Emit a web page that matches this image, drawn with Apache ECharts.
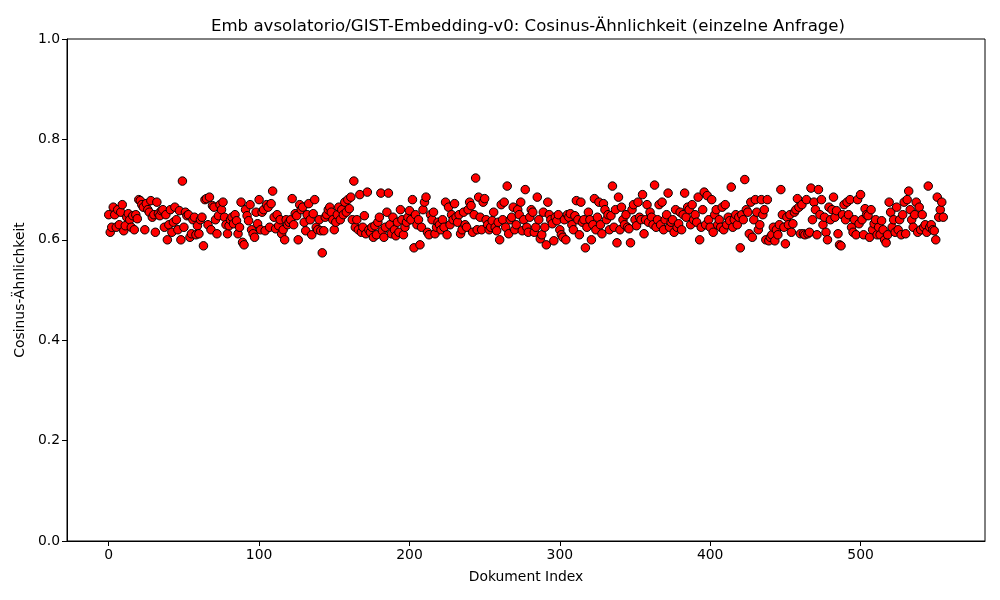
<!DOCTYPE html>
<html><head><meta charset="utf-8">
<script src="https://cdn.jsdelivr.net/npm/echarts@6/dist/echarts.min.js"></script>
<style>html,body{margin:0;padding:0;background:#fff}#c{width:1000px;height:600px}</style>
</head><body><div id="c"></div>
<script>
const titleText = 'Emb avsolatorio/GIST-Embedding-v0: Cosinus-Ähnlichkeit (einzelne Anfrage)';
const xName = 'Dokument Index';
const yName = 'Cosinus-Ähnlichkeit';
const xTicks = [0, 100, 200, 300, 400, 500];
const yTicks = [0.0, 0.2, 0.4, 0.6, 0.8, 1.0];
const similarity = [
0.650,0.615,0.625,0.665,0.650,0.625,0.660,0.630,0.655,0.670,0.618,0.628,0.645,0.652,0.640,0.625,0.648,0.620,0.650,0.642,
0.680,0.678,0.670,0.665,0.620,0.672,0.660,0.655,0.678,0.645,0.650,0.615,0.675,0.652,0.648,0.658,0.660,0.625,0.650,0.600,
0.630,0.660,0.615,0.635,0.665,0.640,0.620,0.658,0.600,0.717,0.625,0.655,0.648,0.650,0.605,0.612,0.640,0.645,0.610,0.628,
0.612,0.640,0.645,0.588,0.680,0.682,0.630,0.685,0.620,0.668,0.665,0.640,0.612,0.648,0.670,0.660,0.675,0.645,0.630,0.612,
0.628,0.640,0.645,0.632,0.650,0.638,0.612,0.625,0.675,0.595,0.590,0.660,0.648,0.638,0.670,0.620,0.612,0.605,0.655,0.632,
0.680,0.620,0.655,0.660,0.618,0.670,0.665,0.625,0.672,0.697,0.645,0.622,0.650,0.628,0.640,0.612,0.620,0.600,0.640,0.630,
0.635,0.640,0.682,0.630,0.652,0.648,0.600,0.670,0.660,0.665,0.635,0.618,0.650,0.672,0.640,0.610,0.652,0.680,0.625,0.620,
0.640,0.618,0.574,0.618,0.645,0.650,0.660,0.665,0.655,0.640,0.620,0.635,0.650,0.665,0.640,0.660,0.650,0.675,0.655,0.680,
0.662,0.685,0.640,0.717,0.625,0.640,0.620,0.690,0.615,0.625,0.648,0.612,0.695,0.620,0.615,0.625,0.605,0.628,0.610,0.635,
0.645,0.693,0.618,0.605,0.625,0.655,0.693,0.630,0.612,0.645,0.620,0.608,0.635,0.615,0.660,0.640,0.610,0.625,0.635,0.645,
0.658,0.640,0.680,0.584,0.650,0.630,0.640,0.590,0.625,0.660,0.675,0.685,0.615,0.610,0.650,0.640,0.655,0.612,0.625,0.635,
0.630,0.620,0.640,0.625,0.675,0.610,0.665,0.630,0.650,0.640,0.672,0.645,0.635,0.650,0.612,0.620,0.655,0.630,0.625,0.660,
0.675,0.668,0.615,0.650,0.723,0.620,0.685,0.645,0.620,0.675,0.682,0.640,0.630,0.620,0.625,0.638,0.655,0.625,0.618,0.635,
0.600,0.670,0.640,0.675,0.625,0.707,0.612,0.640,0.645,0.665,0.620,0.630,0.660,0.650,0.675,0.618,0.640,0.700,0.625,0.615,
0.645,0.660,0.655,0.615,0.625,0.685,0.640,0.602,0.610,0.655,0.625,0.590,0.675,0.650,0.640,0.632,0.598,0.645,0.638,0.650,
0.620,0.610,0.605,0.640,0.600,0.650,0.645,0.652,0.630,0.620,0.648,0.678,0.640,0.610,0.675,0.635,0.640,0.584,0.625,0.655,
0.640,0.600,0.630,0.682,0.620,0.645,0.675,0.630,0.612,0.672,0.660,0.640,0.650,0.620,0.648,0.707,0.625,0.660,0.594,0.685,
0.620,0.665,0.640,0.630,0.650,0.625,0.622,0.594,0.660,0.670,0.640,0.628,0.675,0.645,0.640,0.690,0.612,0.640,0.670,0.635,
0.655,0.645,0.630,0.709,0.625,0.640,0.670,0.630,0.675,0.620,0.640,0.650,0.693,0.625,0.635,0.640,0.615,0.660,0.625,0.632,
0.655,0.620,0.650,0.693,0.645,0.665,0.660,0.630,0.670,0.640,0.650,0.635,0.685,0.600,0.625,0.660,0.695,0.630,0.688,0.640,
0.625,0.680,0.615,0.650,0.660,0.630,0.640,0.625,0.665,0.620,0.670,0.630,0.645,0.638,0.705,0.625,0.640,0.650,0.630,0.645,
0.584,0.650,0.640,0.720,0.660,0.655,0.612,0.675,0.605,0.640,0.680,0.655,0.620,0.630,0.680,0.650,0.660,0.600,0.680,0.598,
0.605,0.610,0.625,0.598,0.620,0.610,0.630,0.700,0.650,0.625,0.592,0.645,0.630,0.650,0.615,0.632,0.655,0.660,0.682,0.665,
0.612,0.670,0.612,0.610,0.680,0.612,0.615,0.703,0.640,0.675,0.660,0.610,0.700,0.650,0.680,0.630,0.645,0.615,0.600,0.665,
0.640,0.660,0.685,0.645,0.658,0.612,0.590,0.588,0.650,0.670,0.640,0.675,0.650,0.680,0.625,0.615,0.640,0.610,0.680,0.632,
0.690,0.640,0.610,0.662,0.650,0.648,0.605,0.660,0.620,0.632,0.640,0.610,0.625,0.610,0.638,0.620,0.600,0.594,0.610,0.675,
0.655,0.625,0.640,0.615,0.665,0.620,0.640,0.610,0.650,0.675,0.612,0.680,0.697,0.660,0.640,0.625,0.650,0.675,0.615,0.665,
0.620,0.650,0.625,0.630,0.615,0.707,0.625,0.630,0.620,0.618,0.600,0.685,0.645,0.660,0.675,0.645
];
const points = similarity.map((v, i) => [i, v]);
const n = similarity.length;
const pad = (n - 1) * 0.05;
const font = 'DejaVu Sans';
const fs = 13.9;
const chart = echarts.init(document.getElementById('c'), null, {renderer: 'canvas'});
chart.setOption({
  animation: false,
  backgroundColor: '#fff',
  title: {
    text: titleText, left: 523, top: 13, textAlign: 'center',
    textStyle: {fontFamily: font, fontSize: 16.6, fontWeight: 'normal', color: '#000'}
  },
  grid: {left: 67, right: 15, top: 39, bottom: 59, show: true, borderColor: '#000', borderWidth: 1, backgroundColor: 'transparent'},
  xAxis: {
    type: 'value', min: -pad, max: (n - 1) + pad,
    name: xName, nameLocation: 'middle', nameGap: 29,
    nameTextStyle: {fontFamily: font, fontSize: fs, color: '#000'},
    axisLine: {show: true, onZero: false, lineStyle: {color: '#000'}},
    axisTick: {show: true, inside: false, length: 5, lineStyle: {color: '#000'}, customValues: xTicks},
    axisLabel: {fontFamily: font, fontSize: fs, color: '#000', margin: 7, customValues: xTicks},
    splitLine: {show: false}
  },
  yAxis: {
    type: 'value', min: 0, max: 1, interval: 0.2,
    name: yName, nameLocation: 'middle', nameGap: 37,
    nameTextStyle: {fontFamily: font, fontSize: fs, color: '#000'},
    axisLine: {show: true, onZero: false, lineStyle: {color: '#000'}},
    axisTick: {show: true, inside: false, length: 5, lineStyle: {color: '#000'}},
    axisLabel: {fontFamily: font, fontSize: fs, color: '#000', margin: 7, formatter: v => v.toFixed(1)},
    splitLine: {show: false}
  },
  series: [{
    type: 'scatter', data: points, symbol: 'circle', symbolSize: 8.5,
    itemStyle: {color: '#ff0000', borderColor: '#000', borderWidth: 1, opacity: 1}
  }]
});
</script></body></html>
